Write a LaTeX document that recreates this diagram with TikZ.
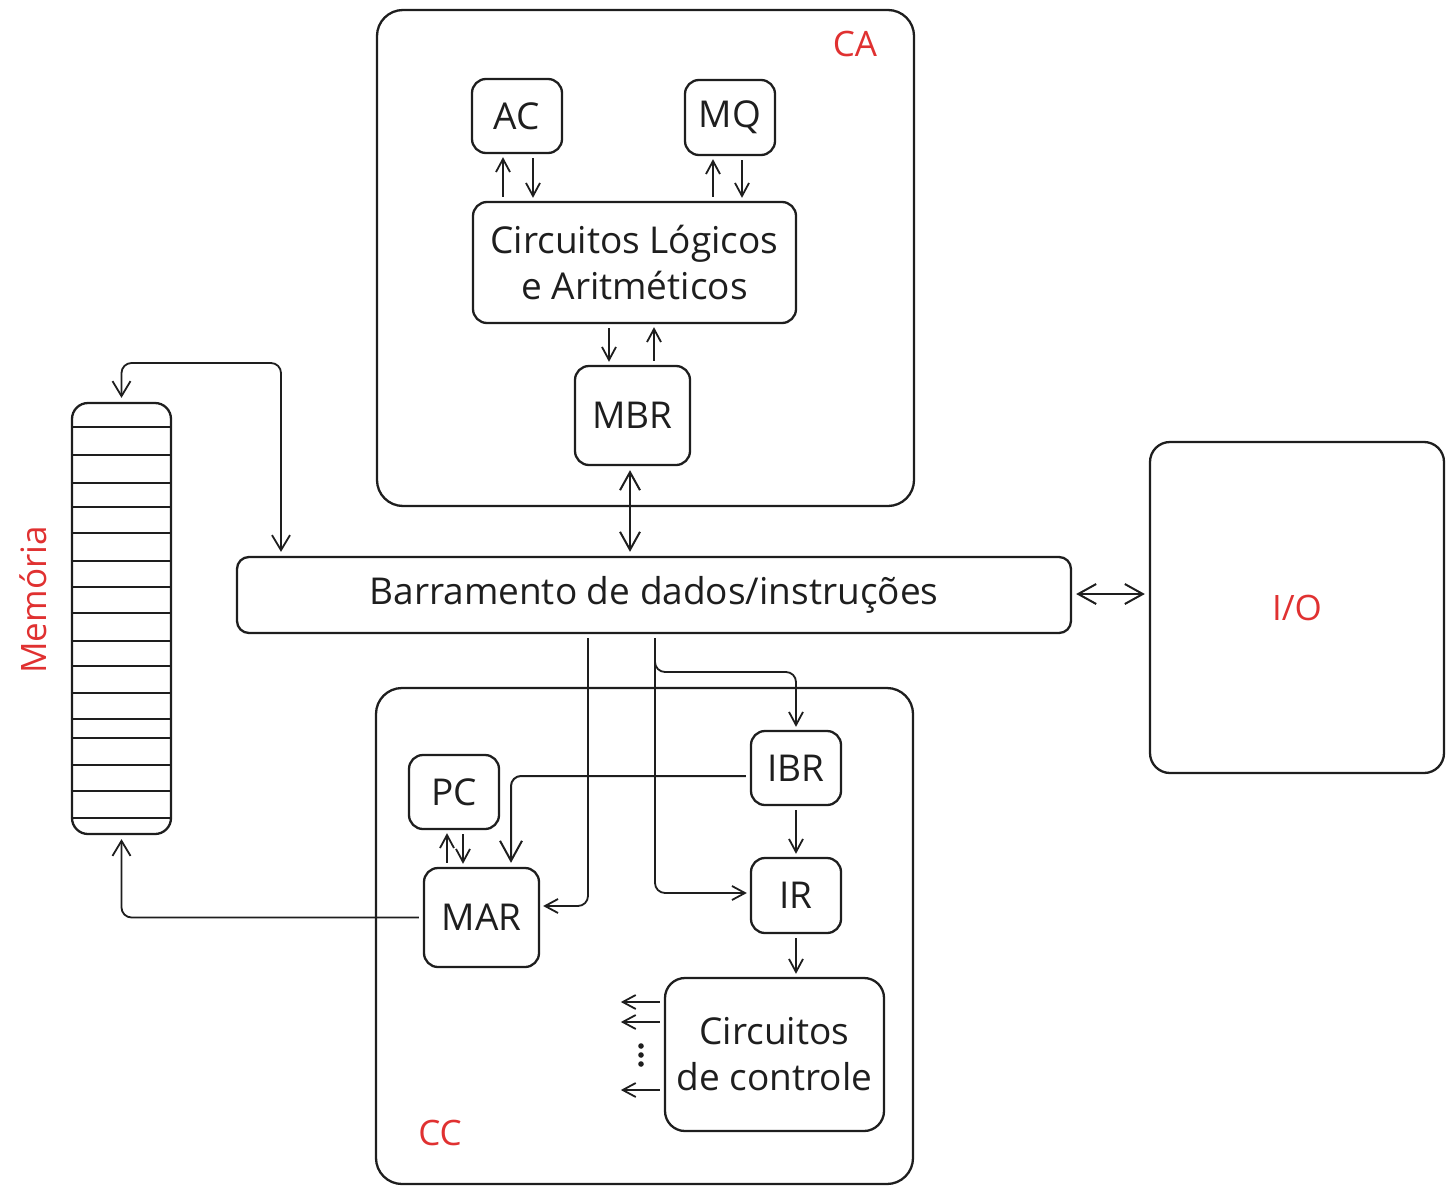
\documentclass[tikz,border=0pt]{standalone}
\usepackage{fontspec}
\setmainfont{Open Sans}
\usetikzlibrary{arrows.meta}
\definecolor{xred}{HTML}{E03131}
\definecolor{xink}{HTML}{1E1E1E}
\tikzset{
  frame/.style={draw=xink, line width=2.3pt, rounded corners=26pt},
  reg/.style={draw=xink, line width=2.3pt, rounded corners=14pt, inner sep=0pt, align=center,
     font=\fontsize{37}{46}\selectfont, text=xink},
  lbl/.style={text=xred, font=\fontsize{35}{40}\selectfont, inner sep=0pt},
  con/.style={draw=xink, line width=1.8pt, rounded corners=10pt},
  sa/.style={con, -{Straight Barb[length=13pt,width=14pt,line width=1.8pt]}, shorten >=3pt, shorten <=4pt},
  ba/.style={con, -{Straight Barb[length=20pt,width=22pt,line width=2pt]}, shorten >=4pt, shorten <=4pt, line width=2pt},
  bda/.style={con, {Straight Barb[length=18pt,width=20pt,line width=2pt]}-{Straight Barb[length=18pt,width=20pt,line width=2pt]}, shorten >=4pt, shorten <=4pt, line width=2.2pt},
}
\begin{document}
\begin{tikzpicture}[x=1pt,y=-1pt]
\useasboundingbox (0,0) rectangle (1454,1194);
% frames
\draw[frame] (377,10) rectangle (914,506);
\draw[frame] (376,688) rectangle (913,1184);
\node[lbl] (ca) at (855,44) {CA};
\node[lbl] (cc) at (440,1133) {CC};
% registers CA
\node[reg, minimum width=90pt, minimum height=74pt] (AC) at (517,116) {AC};
\node[reg, minimum width=90pt, minimum height=75pt] (MQ) at (730,117.5) {MQ};
\node[reg, minimum width=323pt, minimum height=121pt] (CLA) at (634.5,262.5) {Circuitos Lógicos\\e Aritméticos};
\node[reg, minimum width=115pt, minimum height=99pt] (MBR) at (632.5,415.5) {MBR};
% bus
\node[reg, rounded corners=12pt, minimum width=834pt, minimum height=76pt] (Bus) at (654,595) {Barramento de dados/instruções};
% I/O
\node[reg, rounded corners=20pt, minimum width=294pt, minimum height=331pt, text=xred, font=\fontsize{35}{40}\selectfont] (IO) at (1297,607.5) {I/O};
% memory
\node[draw=xink, line width=2.3pt, rounded corners=16pt, minimum width=99pt, minimum height=431pt, inner sep=0pt] (Mem) at (121.5,618.5) {};
\foreach \yy in {427,455,483,507,533,561,587,613,641,666,693,719,738,765,791,818}
  \draw[xink, line width=2.2pt] (Mem.west |- 0,\yy) -- (Mem.east |- 0,\yy);
\node[lbl, rotate=90] (meml) at (33,600) {Memória};
% registers CC
\node[reg, minimum width=90pt, minimum height=74pt] (PC) at (454,792) {PC};
\node[reg, minimum width=115pt, minimum height=99pt] (MAR) at (481.5,917.5) {MAR};
\node[reg, minimum width=90pt, minimum height=74pt] (IBR) at (796,768) {IBR};
\node[reg, minimum width=90pt, minimum height=75pt] (IR) at (796,895.5) {IR};
\node[reg, rounded corners=20pt, minimum width=219pt, minimum height=153pt] (CDC) at (774.5,1054.5) {Circuitos\\de controle};
% CA connectors
\draw[sa] ([xshift=-14pt]AC.south |- CLA.north) -- ([xshift=-14pt]AC.south);
\draw[sa] ([xshift=16pt]AC.south) -- ([xshift=16pt]AC.south |- CLA.north);
\draw[sa] ([xshift=-17pt]MQ.south |- CLA.north) -- ([xshift=-17pt]MQ.south);
\draw[sa] ([xshift=12pt]MQ.south) -- ([xshift=12pt]MQ.south |- CLA.north);
\draw[sa] ([xshift=-23.5pt]MBR.north |- CLA.south) -- ([xshift=-23.5pt]MBR.north);
\draw[sa] ([xshift=21.5pt]MBR.north) -- ([xshift=21.5pt]MBR.north |- CLA.south);
\draw[bda] ([xshift=-2.5pt]MBR.south) -- ([xshift=-2.5pt]MBR.south |- Bus.north);
% bus to I/O
\draw[bda, line width=2pt] ([yshift=1pt]Bus.east) -- ([yshift=1pt]Bus.east -| IO.west);
% memory to bus
\coordinate (mt) at (281,363);
\draw[con, {Straight Barb[length=15pt,width=18pt,line width=1.8pt]}-{Straight Barb[length=15pt,width=18pt,line width=1.8pt]}, shorten >=4pt, shorten <=4pt] (Mem.north) |- (mt) -- (mt |- Bus.north);
% MAR to memory
\draw[con, -{Straight Barb[length=15pt,width=18pt,line width=1.8pt]}, shorten >=4pt, shorten <=4pt] (MAR.west) -| (Mem.south);
% bus to MAR
\draw[sa] ([xshift=-66pt]Bus.south) |- ([yshift=11.5pt]MAR.east);
% bus to IBR and IR
\coordinate (bj) at (655,672);
\draw[sa] ([xshift=1pt]Bus.south) |- (bj -| IBR.north) -- (IBR.north);
\draw[sa] ([xshift=1pt]Bus.south) |- ([yshift=2.5pt]IR.west);
% IBR to MAR
\draw[ba] ([yshift=-8pt]IBR.west) -| ([xshift=29.5pt]MAR.north);
% PC <-> MAR
\draw[sa] ([xshift=-7pt]PC.south |- MAR.north) -- ([xshift=-7pt]PC.south);
\draw[sa] ([xshift=9pt]PC.south) -- ([xshift=9pt]PC.south |- MAR.north);
% IBR -> IR -> CDC
\draw[sa] (IBR.south) -- (IR.north);
\draw[sa] (IR.south) -- (IR.south |- CDC.north);
% control outputs
\draw[sa] ([yshift=52.5pt]CDC.west) -- ++(-46,0);
\draw[sa] ([yshift=32.5pt]CDC.west) -- ++(-46,0);
\draw[sa] ([yshift=-35.5pt]CDC.west) -- ++(-46,0);
\foreach \yy in {1046,1055,1064}
  \fill[xink] (641,\yy) circle (2.8pt);
\end{tikzpicture}
\end{document}
